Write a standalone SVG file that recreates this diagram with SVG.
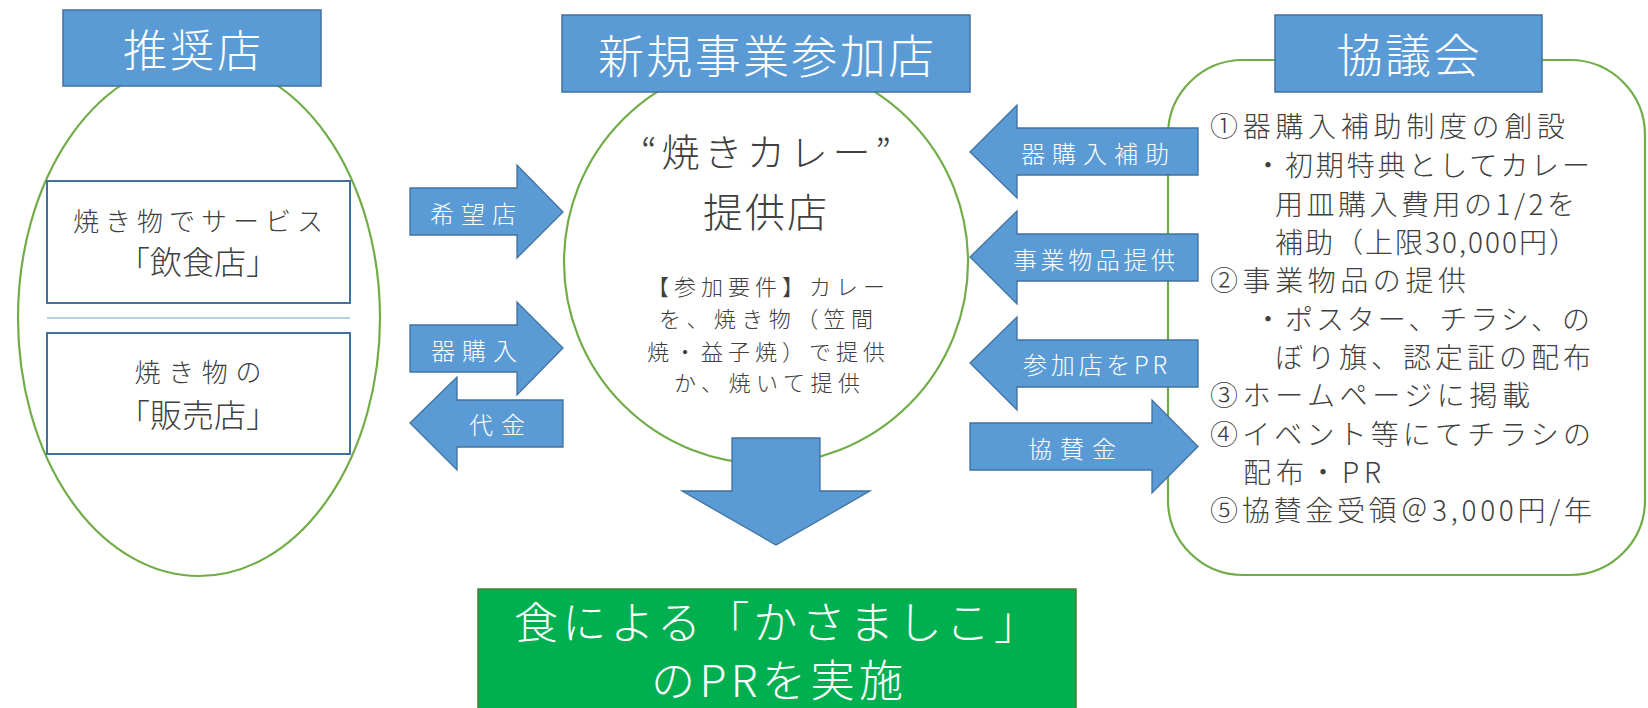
<svg xmlns="http://www.w3.org/2000/svg" width="1648" height="708" viewBox="0 0 1648 708">
<style>
text{font-family:"Noto Sans CJK JP","Noto Sans",sans-serif;dominant-baseline:central;font-weight:300}
.title{fill:#5B9BD5;stroke:#41719C;stroke-width:1.5}
.tt{fill:#FFFFFF;text-anchor:middle}
.grp{fill:none;stroke:#70AD47;stroke-width:2.2}
.ibox{fill:#FFFFFF;stroke:#41719C;stroke-width:2}
.dk{fill:#404040}
.mid{text-anchor:middle}
.arr{fill:#5B9BD5;stroke:#41719C;stroke-width:1.3}
.at{fill:#FFFFFF;text-anchor:middle;font-size:24px}
</style>
<rect width="1648" height="708" fill="#FFFFFF"/>

<g id="recommended">
  <ellipse class="grp" cx="199" cy="318" rx="181" ry="258"/>
  <rect class="title" x="63" y="10" width="258" height="76"/>
  <text class="tt" x="192" y="48" font-size="44" textLength="138">推奨店</text>
  <g id="restaurant">
    <rect class="ibox" x="47" y="181" width="303" height="122"/>
    <text class="dk mid" x="198" y="219" font-size="26" textLength="250">焼き物でサービス</text>
    <text class="dk mid" x="198" y="260" font-size="32" textLength="160">「飲食店」</text>
  </g>
  <line x1="47" y1="318" x2="350" y2="318" stroke="#9DC3E6" stroke-width="1.5"/>
  <g id="shop">
    <rect class="ibox" x="47" y="333" width="303" height="121"/>
    <text class="dk mid" x="198" y="370" font-size="26" textLength="127">焼き物の</text>
    <text class="dk mid" x="198" y="413" font-size="32" textLength="160">「販売店」</text>
  </g>
</g>

<g id="participant">
  <circle class="grp" cx="766" cy="262" r="202"/>
  <rect class="title" x="562" y="15" width="408" height="77"/>
  <text class="tt" x="766" y="53" font-size="46" textLength="336">新規事業参加店</text>
  <text class="dk mid" x="766" y="149" font-size="38" textLength="250">“焼きカレー”</text>
  <text class="dk mid" x="765" y="210" font-size="40" textLength="124">提供店</text>
  <text class="dk mid" x="766" y="285" font-size="22" textLength="238">【参加要件】カレー</text>
  <text class="dk mid" x="766" y="317" font-size="22" textLength="214">を、焼き物（笠間</text>
  <text class="dk mid" x="766" y="350" font-size="22" textLength="238">焼・益子焼）で提供</text>
  <text class="dk mid" x="767" y="381" font-size="22" textLength="186">か、焼いて提供</text>
</g>

<g id="council">
  <rect class="grp" x="1168" y="60" width="477" height="515" rx="75" ry="75"/>
  <rect class="title" x="1275" y="15" width="267" height="77"/>
  <text class="tt" x="1408" y="52" font-size="46" textLength="143">協議会</text>
  <g class="dk" font-size="28">
    <text x="1210" y="125" textLength="355">①器購入補助制度の創設</text>
    <text x="1254" y="164" textLength="336">・初期特典としてカレー</text>
    <text x="1275" y="203" textLength="300">用皿購入費用の1/2を</text>
    <text x="1275" y="241" textLength="302">補助（上限30,000円）</text>
    <text x="1210" y="279" textLength="256">②事業物品の提供</text>
    <text x="1254" y="318" textLength="336">・ポスター、チラシ、の</text>
    <text x="1275" y="356" textLength="316">ぼり旗、認定証の配布</text>
    <text x="1210" y="394" textLength="320">③ホームページに掲載</text>
    <text x="1210" y="433" textLength="381">④イベント等にてチラシの</text>
    <text x="1243" y="471" textLength="138">配布・PR</text>
    <text x="1210" y="509" textLength="382">⑤協賛金受領＠3,000円/年</text>
  </g>
</g>

<g id="result">
  <rect x="478" y="589" width="598" height="130" fill="#00B050" stroke="#507E32" stroke-width="1.5"/>
  <text class="tt" x="776" y="620" font-size="44" textLength="524">食による「かさましこ」</text>
  <text class="tt" x="777" y="678" font-size="44" textLength="252">のPRを実施</text>
</g>

<g id="connectors">
  <polygon class="arr" points="410,188 517,188 517,165 563,212 517,258 517,235 410,235"/>
  <text class="at" x="473" y="212" textLength="86">希望店</text>
  <polygon class="arr" points="410,325 517,325 517,302 563,348 517,395 517,372 410,372"/>
  <text class="at" x="474" y="349" textLength="86">器購入</text>
  <polygon class="arr" points="410,423 457,377 457,400 563,400 563,447 457,447 457,470"/>
  <text class="at" x="497" y="423" textLength="56">代金</text>
  <polygon class="arr" points="970,152 1017,105 1017,128 1198,128 1198,175 1017,175 1017,198"/>
  <text class="at" x="1095" y="152" textLength="148">器購入補助</text>
  <polygon class="arr" points="970,257 1017,211 1017,234 1198,234 1198,281 1017,281 1017,304"/>
  <text class="at" x="1094" y="258" textLength="162">事業物品提供</text>
  <polygon class="arr" points="970,363 1017,317 1017,340 1198,340 1198,387 1017,387 1017,410"/>
  <text class="at" x="1095" y="363" textLength="144">参加店をPR</text>
  <polygon class="arr" points="970,423 1152,423 1152,400 1198,446.5 1152,493 1152,470 970,470"/>
  <text class="at" x="1072" y="447" textLength="88">協賛金</text>
  <polygon class="arr" points="732,438 820,438 820,491 870,491 776,545 682,491 732,491"/>
</g>
</svg>
